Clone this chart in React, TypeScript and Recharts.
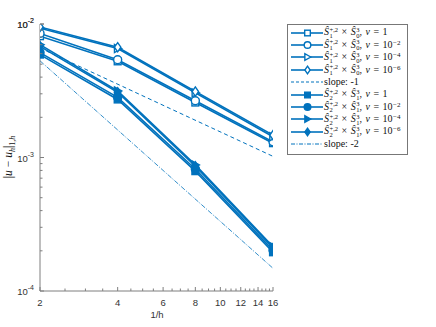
import React from 'react';
import { LineChart, Line, XAxis, YAxis } from 'recharts';

const BLUE = '#0072BD';
const AXIS = '#7f7f7f';

// mesh sizes (1/h)
const invH = [2, 4, 8, 16];

// S1^{+,2} x S0^3 (open markers)
const errOpenNu1 = [8.1e-3, 5.25e-3, 2.58e-3, 1.28e-3];
const errOpenNu2 = [8.5e-3, 5.4e-3, 2.66e-3, 1.31e-3];
const errOpenNu4 = [9.3e-3, 6.55e-3, 3.05e-3, 1.43e-3];
const errOpenNu6 = [9.5e-3, 6.7e-3, 3.12e-3, 1.47e-3];

// S2^{+,2} x S1^3 (filled markers)
const errFilledNu1 = [5.9e-3, 2.72e-3, 7.9e-4, 1.95e-4];
const errFilledNu2 = [6.1e-3, 2.82e-3, 8.2e-4, 2.02e-4];
const errFilledNu4 = [7.0e-3, 3.15e-3, 8.8e-4, 2.15e-4];
const errFilledNu6 = [6.8e-3, 3.08e-3, 8.6e-4, 2.1e-4];

// reference slopes
const slopeX = [2, 16];
const slopeOne = [6.6e-3, 1.02e-3];
const slopeTwo = [5.3e-3, 1.48e-4];

// ticks
const xLabels = [2, 4, 6, 8, 10, 12, 14, 16];
const xTicks = [2, 2.5, 3, 3.5, 4, 4.5, 5, 5.5, 6, 6.5, 7, 7.5, 8, 8.5, 9, 9.5, 10, 10.5, 11, 11.5, 12, 12.5, 13, 13.5, 14, 14.5, 15, 15.5, 16];
const yDecades = [-4, -3, -2];
const yMantissas = [1, 2, 3, 4, 5, 6, 7, 8, 9];

const nuLabels = ['1', '10^-2', '10^-4', '10^-6'];

const yTicks: number[] = [];
yDecades.forEach((d) => {
  yMantissas.forEach((m) => {
    const v = m * Math.pow(10, d);
    if (v <= 1.0001e-2) yTicks.push(v);
  });
});
yTicks.push(1e-2);

const rows = invH.map((x, i) => ({
  x,
  o1: errOpenNu1[i],
  o2: errOpenNu2[i],
  o3: errOpenNu4[i],
  o4: errOpenNu6[i],
  f1: errFilledNu1[i],
  f2: errFilledNu2[i],
  f3: errFilledNu4[i],
  f4: errFilledNu6[i],
}));
const slopeOneRows = slopeX.map((x, i) => ({ x, v: slopeOne[i] }));
const slopeTwoRows = slopeX.map((x, i) => ({ x, v: slopeTwo[i] }));

type Shape = 'square' | 'circle' | 'triangle' | 'diamond';
const shapes: Shape[] = ['square', 'circle', 'triangle', 'diamond'];

function markerEl(shape: Shape, cx: number, cy: number, filled: boolean, r: number, key?: string) {
  const common = {
    key,
    fill: filled ? BLUE : '#fff',
    stroke: BLUE,
    strokeWidth: 1.4,
  };
  if (shape === 'square') {
    return <rect {...common} x={cx - r * 0.85} y={cy - r * 0.85} width={r * 1.7} height={r * 1.7} />;
  }
  if (shape === 'circle') {
    return <circle {...common} cx={cx} cy={cy} r={r} />;
  }
  if (shape === 'triangle') {
    const pts = `${cx + r},${cy} ${cx - r * 0.8},${cy - r} ${cx - r * 0.8},${cy + r}`;
    return <polygon {...common} points={pts} />;
  }
  const pts = `${cx},${cy - r * 1.15} ${cx + r * 0.8},${cy} ${cx},${cy + r * 1.15} ${cx - r * 0.8},${cy}`;
  return <polygon {...common} points={pts} />;
}

const makeDot = (shape: Shape, filled: boolean, id: string) => (p: any) => {
  if (p.cx == null || p.cy == null) return <g key={`${id}-${p.index}`} />;
  return markerEl(shape, p.cx, p.cy, filled, 4, `${id}-${p.index}`);
};

const isMajorY = (v: number) => Math.abs(Math.log10(v) - Math.round(Math.log10(v))) < 1e-6;

const LeftTick = (props: any) => {
  const { x, y, payload } = props;
  const v = payload.value;
  const major = isMajorY(v);
  return (
    <g>
      <line x1={x} x2={x + (major ? 4 : 2.5)} y1={y} y2={y} stroke={AXIS} />
      {major && (
        <text x={x - 6} y={y + 4} textAnchor="end" fontSize={9.5} fill="#333" fontFamily="'Liberation Sans', Arial, sans-serif">
          10<tspan dy={-5} fontSize={7}>{Math.round(Math.log10(v))}</tspan>
        </text>
      )}
    </g>
  );
};

const RightTick = (props: any) => {
  const { x, y, payload } = props;
  const major = isMajorY(payload.value);
  return <line x1={x - (major ? 4 : 2.5)} x2={x} y1={y} y2={y} stroke={AXIS} />;
};

const BottomTick = (props: any) => {
  const { x, y, payload } = props;
  const major = xLabels.includes(payload.value);
  return (
    <g>
      <line x1={x} x2={x} y1={y} y2={y - (major ? 4 : 2.5)} stroke={AXIS} />
      {major && (
        <text x={x} y={y + 15} textAnchor="middle" fontSize={9.5} fill="#333" fontFamily="'Liberation Sans', Arial, sans-serif">
          {payload.value}
        </text>
      )}
    </g>
  );
};

const TopTick = (props: any) => {
  const { x, y, payload } = props;
  const major = xLabels.includes(payload.value);
  return <line x1={x} x2={x} y1={y} y2={y + (major ? 4 : 2.5)} stroke={AXIS} />;
};

const Stack = ({ sup, sub }: { sup: string; sub: string }) => (
  <span
    style={{
      display: 'inline-flex',
      flexDirection: 'column',
      fontSize: 6.5,
      lineHeight: '6px',
      verticalAlign: 'middle',
      marginLeft: 0.5,
      fontStyle: 'normal',
    }}
  >
    <span>{sup}</span>
    <span>{sub}</span>
  </span>
);

const NuValue = ({ label }: { label: string }) => {
  if (label === '1') return <span>1</span>;
  const exp = label.split('^')[1];
  return (
    <span>
      10<sup style={{ fontSize: 7, verticalAlign: 3, lineHeight: 0, marginLeft: 0.5 }}>{exp.replace('-', '\u2212')}</sup>
    </span>
  );
};

const SampleLine = ({ dash, width }: { dash?: string; width: number }) => (
  <line x1={3} x2={35} y1={6} y2={6} stroke={BLUE} strokeWidth={width} strokeDasharray={dash} />
);

const LegendRow = ({ children, sample }: { children: React.ReactNode; sample: React.ReactNode }) => (
  <div style={{ display: 'flex', alignItems: 'center', height: 12.4 }}>
    <svg width={36} height={12} style={{ flex: 'none' }}>
      {sample}
    </svg>
    <div style={{ whiteSpace: 'nowrap', lineHeight: '12px' }}>{children}</div>
  </div>
);

const SpaceLabel = ({ sup1, sub1, sup2, sub2, nu }: { sup1: string; sub1: string; sup2: string; sub2: string; nu: string }) => (
  <span>
    <i>Ŝ</i>
    <Stack sup={sup1} sub={sub1} />
    <span style={{ margin: '0 3.5px' }}>×</span>
    <i>Ŝ</i>
    <Stack sup={sup2} sub={sub2} />
    <span style={{ marginRight: 3.5 }}>,</span>
    <i>ν</i>
    <span style={{ margin: '0 3.5px' }}>=</span>
    <NuValue label={nu} />
  </span>
);

const ChartLegend = () => (
  <div
    style={{
      position: 'absolute',
      left: 287,
      top: 24,
      width: 119,
      height: 126,
      border: '1px solid #777',
      background: '#fff',
      padding: '1.5px 0',
      fontFamily: "'Liberation Serif', 'Times New Roman', serif",
      fontSize: 10,
      color: '#111',
      boxSizing: 'content-box',
      overflow: 'hidden',
    }}
  >
    {shapes.map((s, i) => (
      <LegendRow
        key={`o-${s}`}
        sample={
          <>
            <SampleLine width={1.6} />
            {markerEl(s, 19.5, 6, false, 3.3)}
          </>
        }
      >
        <SpaceLabel sup1="+,2" sub1="1" sup2="3" sub2="0" nu={nuLabels[i]} />
      </LegendRow>
    ))}
    <LegendRow sample={<SampleLine width={1} dash="3 2" />}>slope: -1</LegendRow>
    {shapes.map((s, i) => (
      <LegendRow
        key={`f-${s}`}
        sample={
          <>
            <SampleLine width={1.6} />
            {markerEl(s, 19.5, 6, true, 3.3)}
          </>
        }
      >
        <SpaceLabel sup1="+,2" sub1="2" sup2="3" sub2="1" nu={nuLabels[i]} />
      </LegendRow>
    ))}
    <LegendRow sample={<SampleLine width={1} dash="4 1.5 1 1.5" />}>slope: -2</LegendRow>
  </div>
);

export default function App() {
  return (
    <div style={{ position: 'absolute', left: 0, top: 0, width: 436, height: 327, background: '#fff' }}>
      <LineChart width={436} height={327} data={rows} margin={{ top: 24, right: 163, bottom: 6, left: 10 }}>
        <XAxis
          dataKey="x"
          type="number"
          scale="log"
          domain={[2, 16]}
          allowDataOverflow
          ticks={xTicks}
          interval={0}
          height={30}
          tickSize={0}
          tickMargin={0}
          tick={<BottomTick />}
          axisLine={{ stroke: AXIS }}
          tickLine={false}
        />
        <XAxis
          xAxisId="top"
          orientation="top"
          dataKey="x"
          type="number"
          scale="log"
          domain={[2, 16]}
          allowDataOverflow
          ticks={xTicks}
          interval={0}
          height={0}
          tickSize={0}
          tickMargin={0}
          tick={<TopTick />}
          axisLine={{ stroke: AXIS }}
          tickLine={false}
        />
        <YAxis
          type="number"
          scale="log"
          domain={[1e-4, 1e-2]}
          allowDataOverflow
          ticks={yTicks}
          interval={0}
          width={30}
          tickSize={0}
          tickMargin={0}
          tick={<LeftTick />}
          axisLine={{ stroke: AXIS }}
          tickLine={false}
        />
        <YAxis
          yAxisId="right"
          orientation="right"
          type="number"
          scale="log"
          domain={[1e-4, 1e-2]}
          allowDataOverflow
          ticks={yTicks}
          interval={0}
          width={0}
          tickSize={0}
          tickMargin={0}
          tick={<RightTick />}
          axisLine={{ stroke: AXIS }}
          tickLine={false}
        />
        {(['o1', 'o2', 'o3', 'o4'] as const).map((k, i) => (
          <Line
            key={k}
            dataKey={k}
            stroke={BLUE}
            strokeWidth={1.6}
            dot={makeDot(shapes[i], false, k)}
            activeDot={false}
            isAnimationActive={false}
          />
        ))}
        <Line
          data={slopeOneRows}
          dataKey="v"
          stroke={BLUE}
          strokeWidth={1}
          strokeDasharray="4 3"
          dot={false}
          activeDot={false}
          isAnimationActive={false}
        />
        {(['f1', 'f2', 'f3', 'f4'] as const).map((k, i) => (
          <Line
            key={k}
            dataKey={k}
            stroke={BLUE}
            strokeWidth={1.6}
            dot={makeDot(shapes[i], true, k)}
            activeDot={false}
            isAnimationActive={false}
          />
        ))}
        <Line
          data={slopeTwoRows}
          dataKey="v"
          stroke={BLUE}
          strokeWidth={0.8}
          strokeDasharray="5 1.5 1 1.5"
          dot={false}
          activeDot={false}
          isAnimationActive={false}
        />
      </LineChart>
      <div
        style={{
          position: 'absolute',
          left: 157,
          top: 309,
          transform: 'translateX(-50%)',
          fontFamily: "'Liberation Sans', Arial, sans-serif",
          fontSize: 9.5,
          color: '#333',
        }}
      >
        1/h
      </div>
      <div
        style={{
          position: 'absolute',
          left: 8,
          top: 157,
          transform: 'translate(-50%, -50%) rotate(-90deg)',
          fontFamily: "'Liberation Serif', 'Times New Roman', serif",
          fontSize: 11.5,
          lineHeight: '12px',
          color: '#111',
          whiteSpace: 'nowrap',
        }}
      >
        |<i>u</i>
        <span style={{ margin: '0 3px' }}>−</span>
        <i>u</i>
        <sub style={{ fontSize: 8, fontStyle: 'italic', lineHeight: 0 }}>h</sub>|
        <sub style={{ fontSize: 8, lineHeight: 0 }}>
          1,<i>h</i>
        </sub>
      </div>
      <ChartLegend />
    </div>
  );
}
